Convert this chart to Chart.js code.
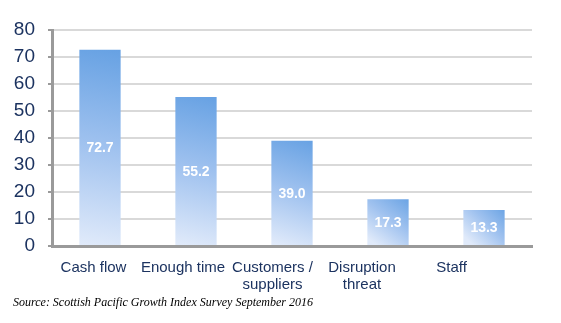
<!DOCTYPE html>
<html>
<head>
<meta charset="utf-8">
<script src="https://cdn.jsdelivr.net/npm/chart.js@4/dist/chart.umd.min.js"></script>
<style>
  html, body { margin: 0; padding: 0; background: #fff; }
  #wrap { width: 561px; height: 323px; }
</style>
</head>
<body>
<div id="wrap"><canvas id="growthChart" width="561" height="323"></canvas></div>
<script>
const categories = [['Cash flow'], ['Enough time'], ['Customers /', 'suppliers'], ['Disruption', 'threat'], ['Staff']];
const values = [72.7, 55.2, 39.0, 17.3, 13.3];
const yTicks = [0, 10, 20, 30, 40, 50, 60, 70, 80];
const sourceNote = 'Source: Scottish Pacific Growth Index Survey September 2016';

const navy = '#1c3360';

// per-bar gradient, darker top right, pale at the base
function barFill(ctx) {
  const chart = ctx.chart;
  if (!chart.chartArea || ctx.dataIndex === undefined) return '#8fb8ec';
  const x = chart.scales.x.getPixelForValue(ctx.dataIndex);
  const top = chart.scales.y.getPixelForValue(values[ctx.dataIndex]);
  const base = chart.scales.y.getPixelForValue(0);
  const g = chart.ctx.createLinearGradient(x + 25, top, x - 10, base);
  g.addColorStop(0, '#66a1e3');
  g.addColorStop(0.5, '#a0c2ef');
  g.addColorStop(1, '#e0eafa');
  return g;
}

const barLabels = {
  id: 'barLabels',
  afterDatasetsDraw(chart) {
    const c = chart.ctx;
    c.save();
    c.fillStyle = '#ffffff';
    c.font = 'bold 14px "Liberation Sans", Arial, sans-serif';
    c.textAlign = 'center';
    c.textBaseline = 'middle';
    chart.getDatasetMeta(0).data.forEach((bar, i) => {
      c.fillText(values[i].toFixed(1), bar.x, (bar.y + bar.base) / 2 + 1);
    });
    c.restore();
  },
  afterDraw(chart) {
    const c = chart.ctx;
    c.save();
    c.fillStyle = '#000';
    c.font = 'italic 12px "Liberation Serif", serif';
    c.textBaseline = 'middle';
    c.fillText(sourceNote, 13, 303);
    c.restore();
  }
};

new Chart(document.getElementById('growthChart'), {
  type: 'bar',
  data: {
    labels: categories,
    datasets: [{
      data: values,
      backgroundColor: barFill,
      borderWidth: 0,
      barPercentage: 0.43,
      categoryPercentage: 1
    }]
  },
  options: {
    responsive: false,
    animation: false,
    layout: { padding: { top: 30, right: 29, left: 0, bottom: 0 } },
    plugins: { legend: { display: false }, tooltip: { enabled: false } },
    scales: {
      x: { display: false },
      // category names sit on their own axis, spaced a little tighter than the bars
      xl: {
        type: 'linear',
        position: 'bottom',
        offset: false,
        min: -0.4637,
        max: 4.899,
        afterBuildTicks: (scale) => { scale.ticks = categories.map((c, i) => ({ value: i })); },
        afterFit: (scale) => { scale.height = 77; },
        grid: { display: false, offset: false },
        border: { color: '#9a9a9a', width: 3 },
        ticks: {
          autoSkip: false,
          maxRotation: 0,
          padding: 5,
          color: navy,
          font: { size: 15, lineHeight: 1.15, family: '"Liberation Sans", Arial, sans-serif' },
          callback: (v) => categories[v]
        }
      },
      y: {
        min: 0,
        max: 80,
        afterBuildTicks: (scale) => { scale.ticks = yTicks.map(v => ({ value: v })); },
        afterFit: (scale) => { scale.width = 52; },
        grid: { color: '#d9d9d9', lineWidth: 2, tickLength: 4, tickColor: '#9a9a9a' },
        border: { color: '#9a9a9a', width: 3 },
        ticks: {
          padding: 13,
          color: navy,
          font: { size: 19, family: '"Liberation Sans", Arial, sans-serif' }
        }
      }
    }
  },
  plugins: [barLabels]
});
</script>
</body>
</html>
